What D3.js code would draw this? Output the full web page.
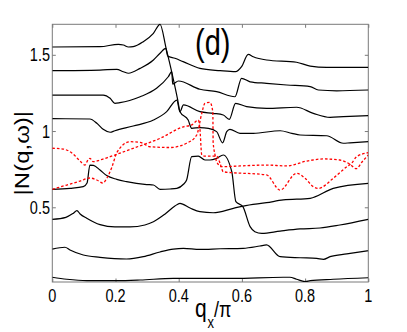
<!DOCTYPE html>
<meta charset="utf-8">
<style>
  body { margin: 0; background: #fff; }
  svg { display: block; }
  text { font-family: "Liberation Sans", Arial, sans-serif; fill: #000; }
</style>
<body>
<svg id="chart" width="407" height="332"></svg>
<script src="https://d3js.org/d3.v7.min.js"></script>
<script>
  // tick values
  const xTicks = [0, 0.2, 0.4, 0.6, 0.8, 1];
  const yTicks = [0.5, 1, 1.5];

  // black curves, [q/pi, |N|]
  const curve1 = [[0,1.551],[0.151,1.553],[0.209,1.569],[0.225,1.564],[0.241,1.551],[0.256,1.553],[0.288,1.586],[0.320,1.641],[0.341,1.700],
    [0.360,1.544],[0.378,1.387],[0.397,1.203],[0.404,1.127],[0.430,1.072],[0.441,1.018],[0.467,1.023],[0.494,1.018],[0.520,0.996],[0.539,0.923],
    [0.552,0.996],[0.562,1.011],[0.594,0.985],[0.636,0.985],[0.721,1.002],[0.758,0.985],[0.784,0.974],[0.868,0.969],[0.921,0.920],[0.942,0.923],[1,0.930]];
  const curve2 = [[0,1.396],[0.151,1.400],[0.204,1.405],[0.225,1.389],[0.241,1.379],[0.278,1.411],[0.320,1.466],[0.341,1.510],[0.359,1.542],
    [0.365,1.492],[0.388,1.477],[0.414,1.455],[0.467,1.411],[0.531,1.396],[0.580,1.389],[0.599,1.422],[0.620,1.503],[0.636,1.487],[0.678,1.466],
    [0.773,1.451],[0.816,1.426],[0.868,1.418],[1,1.418]];
  const curve3 = [[0,1.236],[0.161,1.236],[0.183,1.215],[0.198,1.182],[0.214,1.186],[0.278,1.225],[0.330,1.280],[0.367,1.356],[0.378,1.389],
    [0.381,1.308],[0.399,1.328],[0.467,1.274],[0.520,1.258],[0.578,1.225],[0.599,1.346],[0.626,1.323],[0.678,1.313],[0.742,1.302],[0.816,1.291],
    [0.842,1.269],[0.900,1.264],[1,1.269]];
  const curve4 = [[0,1.081],[0.119,1.079],[0.141,1.051],[0.161,1.011],[0.183,0.992],[0.198,1.002],[0.256,1.033],[0.320,1.072],[0.362,1.127],
    [0.394,1.203],[0.404,1.127],[0.415,1.171],[0.467,1.127],[0.509,1.116],[0.541,1.105],[0.560,1.077],[0.580,1.182],[0.615,1.160],[0.678,1.149],
    [0.773,1.156],[0.826,1.116],[0.879,1.090],[0.921,1.094],[1,1.101]];
  const curve5 = [[0,0.618],[0.056,0.624],[0.098,0.635],[0.110,0.659],[0.119,0.777],[0.130,0.775],[0.151,0.744],[0.172,0.708],[0.204,0.683],
    [0.235,0.668],[0.299,0.649],[0.320,0.646],[0.341,0.618],[0.373,0.620],[0.394,0.624],[0.415,0.651],[0.425,0.679],[0.441,0.832],[0.462,0.836],
    [0.483,0.810],[0.499,0.810],[0.520,0.821],[0.541,0.843],[0.568,0.733],[0.581,0.537],[0.603,0.504],[0.626,0.373],[0.641,0.340],[0.663,0.329],
    [0.721,0.344],[0.784,0.358],[0.847,0.364],[0.910,0.384],[1,0.421]];
  const curve6 = [[0,0.421],[0.043,0.434],[0.066,0.460],[0.078,0.478],[0.088,0.456],[0.109,0.428],[0.151,0.386],[0.198,0.371],[0.246,0.371],
    [0.293,0.384],[0.320,0.405],[0.357,0.456],[0.388,0.508],[0.404,0.526],[0.436,0.495],[0.467,0.471],[0.509,0.464],[0.573,0.493],[0.604,0.508],
    [0.678,0.530],[0.731,0.548],[0.816,0.559],[0.889,0.624],[1,0.657]];
  const curve7 = [[0,0.226],[0.040,0.238],[0.056,0.220],[0.098,0.187],[0.151,0.172],[0.235,0.161],[0.288,0.176],[0.341,0.207],[0.383,0.226],
    [0.415,0.231],[0.467,0.224],[0.531,0.228],[0.604,0.231],[0.657,0.246],[0.678,0.253],[0.721,0.176],[0.784,0.169],[0.837,0.165],[0.858,0.159],
    [0.879,0.176],[0.932,0.194],[1,0.215]];
  const curve8 = [[0,0.041],[0.046,0.028],[0.109,0.019],[0.204,0.019],[0.278,0.023],[0.383,0.034],[0.467,0.034],[0.573,0.034],[0.731,0.041],
    [0.752,0.041],[0.773,0.028],[0.800,0.013],[0.816,0.019],[0.889,0.028],[1,0.038]];

  // red dashed curves
  const redA = [[0,0.887],[0.034,0.882],[0.062,0.856],[0.088,0.803],[0.103,0.777],[0.113,0.810],[0.119,0.821],[0.129,0.799],[0.151,0.810],
    [0.183,0.832],[0.256,0.887],[0.341,0.952],[0.415,1.028],[0.441,1.040],[0.462,1.072],[0.467,1.018],[0.473,0.843],[0.483,0.836],[0.520,0.836],
    [0.531,0.788],[0.541,0.733],[0.678,0.712],[0.721,0.613],[0.773,0.723],[0.800,0.690],[0.826,0.635],[0.842,0.624],[0.889,0.690],[0.932,0.766],
    [0.947,0.788],[0.963,0.832],[1,0.858]];
  const redB = [[0,0.618],[0.046,0.646],[0.088,0.672],[0.119,0.692],[0.141,0.679],[0.160,0.659],[0.173,0.692],[0.189,0.766],[0.205,0.862],
    [0.246,0.930],[0.278,0.926],[0.309,0.897],[0.373,0.892],[0.425,0.920],[0.457,0.974],[0.473,1.116],[0.483,1.182],[0.499,1.188],[0.508,1.125],
    [0.509,0.928],[0.515,0.843],[0.520,0.799],[0.536,0.766],[0.594,0.771],[0.678,0.777],[0.742,0.771],[0.805,0.803],[0.858,0.817],[0.910,0.810],
    [0.942,0.782],[0.962,0.753],[0.980,0.797],[1,0.843]];

  const blackCurves = [curve1, curve2, curve3, curve4, curve5, curve6, curve7, curve8];
  const redCurves = [redA, redB];

  const svg = d3.select("#chart");
  const pLeft = 52.3, pRight = 368.3, pTop = 24.3, pBottom = 282;

  const x = d3.scaleLinear().domain([0, 1]).range([pLeft, pRight]);
  const y = d3.scaleLinear().domain([0.01, 1.7]).range([pBottom, pTop]);

  svg.append("rect").attr("width", 407).attr("height", 332).attr("fill", "#fff");

  svg.append("defs").append("clipPath").attr("id", "clip")
    .append("rect").attr("x", pLeft).attr("y", pTop - 1).attr("width", pRight - pLeft).attr("height", pBottom - pTop + 1);

  const axisColor = "#7a7a7a";
  const tk = 3.5;

  // ticks on all four sides, pointing inward
  const axes = [
    [d3.axisBottom(x).tickValues(xTicks), `translate(0,${pBottom})`],
    [d3.axisTop(x).tickValues(xTicks), `translate(0,${pTop})`],
    [d3.axisLeft(y).tickValues(yTicks), `translate(${pLeft},0)`],
    [d3.axisRight(y).tickValues(yTicks), `translate(${pRight},0)`]
  ];
  axes.forEach(([ax, tr]) => {
    const g = svg.append("g").attr("transform", tr)
      .call(ax.tickSize(-tk).tickSizeOuter(0).tickFormat(""));
    g.select(".domain").remove();
    g.selectAll("line").attr("stroke", axisColor);
  });

  svg.append("rect")
    .attr("x", pLeft).attr("y", pTop)
    .attr("width", pRight - pLeft).attr("height", pBottom - pTop)
    .attr("fill", "none").attr("stroke", axisColor).attr("stroke-width", 1);

  const line = d3.line().x(d => x(d[0])).y(d => y(d[1])).curve(d3.curveMonotoneX);
  const plot = svg.append("g").attr("clip-path", "url(#clip)");

  plot.selectAll("path.black")
    .data(blackCurves)
    .join("path")
    .attr("class", "black")
    .attr("d", line)
    .attr("fill", "none")
    .attr("stroke", "#000")
    .attr("stroke-width", 1.2)
    .attr("stroke-linejoin", "round");

  plot.selectAll("path.red")
    .data(redCurves)
    .join("path")
    .attr("class", "red")
    .attr("d", line)
    .attr("fill", "none")
    .attr("stroke", "#ff0000")
    .attr("stroke-width", 1.3)
    .attr("stroke-dasharray", "2.6,2");

  // text is a bit taller than wide in the original
  function label(px, py, str, size, anchor, sy) {
    return svg.append("text")
      .attr("transform", `translate(${px},${py}) scale(1,${sy || 1.22})`)
      .attr("text-anchor", anchor || "start")
      .attr("font-size", size)
      .text(str);
  }

  xTicks.forEach(v => label(x(v), 301.5, d3.format("~g")(v), 14.5, "middle"));
  yTicks.forEach(v => label(50, y(v) + 6.5, d3.format("~g")(v), 14.5, "end"));

  label(195, 55, "(d)", 29, "start", 1.3);

  // x label q_x / pi, subscript placed between the two parts
  label(195, 317, "q", 21, "start", 1.25);
  label(207.5, 328, "x", 13, "start", 1.2);
  label(214, 317, "/\u03c0", 18, "start", 1.25);

  svg.append("text")
    .attr("transform", `translate(29,${(pTop + pBottom) / 2}) scale(1,1.2) rotate(-90)`)
    .attr("text-anchor", "middle")
    .attr("font-size", 20)
    .text("|N(q,\u03c9)|");
</script>
</body>
